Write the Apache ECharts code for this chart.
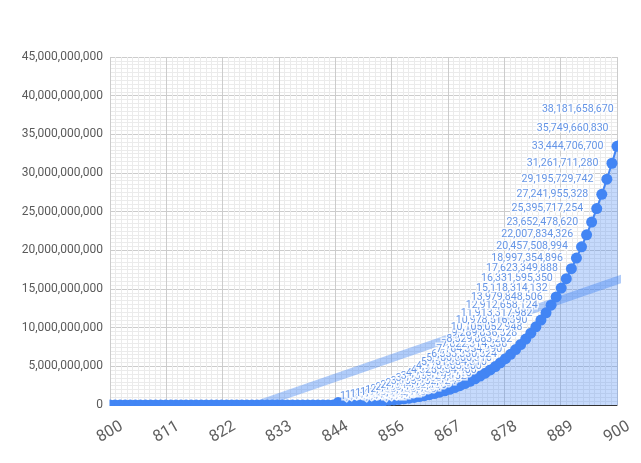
<!DOCTYPE html>
<html>
<head>
<meta charset="utf-8">
<script src="https://cdn.jsdelivr.net/npm/echarts@6/dist/echarts.min.js"></script>
<style>
html,body{margin:0;padding:0;background:#fff;}
#c{width:641px;height:463px;}
</style>
</head>
<body>
<div id="c"></div>
<script>
// x values start at this year, one value per year
const startYear = 800;
const xTickLabels = [800, 811, 822, 833, 844, 856, 867, 878, 889, 900];
// series values (800 .. 902)
const values = [
  0,0,0,0,0,0,0,0,0,0,            // 800-809
  0,0,0,0,0,0,0,0,0,0,            // 810-819
  0,0,0,0,0,0,0,0,0,0,            // 820-829
  0,0,0,0,0,0,0,0,0,0,            // 830-839
  0,0,0,0,0,                      // 840-844
  318217370, 330224294, 344655708, 361886462, 382328440,       // 845-849
  406432350, 434689520, 467633700, 505842870, 549941054,       // 850-854
  600600140, 658541706, 724538852, 799418038, 884060928,       // 855-859
  979406240, 1086451602, 1206255414, 1339938716, 1488687062,   // 860-864
  1653752400, 1836454958, 2038185136, 2260405404, 2504652206,  // 865-869
  2772537870, 3065752524, 3386066018, 3735329852, 4115479110,  // 870-874
  4528534400, 4976603800, 5461884810, 5986666310, 6553330524,  // 875-879
  7164354990, 7822314536, 8529883262, 9289836528, 10105052948, // 880-884
  10978516390, 11913317982, 12912658124, 13979848506, 15118314132, // 885-889
  16331595350, 17623349888, 18997354896, 20457508994, 22007834326, // 890-894
  23652478620, 25395717254, 27241955328, 29195729742, 31261711280, // 895-899
  33444706700, 35749660830, 38181658670                        // 900-902
];

const pts = values.map((v, i) => [startYear + i, v]);

// linear trendline (least squares) from the data
let n = pts.length, sx = 0, sy = 0, sxx = 0, sxy = 0;
pts.forEach(p => { sx += p[0]; sy += p[1]; sxx += p[0]*p[0]; sxy += p[0]*p[1]; });
const slope = (n*sxy - sx*sy) / (n*sxx - sx*sx);
const icpt = (sy - slope*sx) / n;
const x0 = pts[0][0], x1 = pts[pts.length-1][0];
const trend = [[x0, icpt + slope*x0], [x1, icpt + slope*x1]];

function fmt(v){ return String(Math.round(v)).replace(/\B(?=(\d{3})+(?!\d))/g, ','); }

const chart = echarts.init(document.getElementById('c'), null, {renderer:'canvas'});
chart.setOption({
  animation: false,
  backgroundColor: '#fff',
  textStyle: { fontFamily: 'Roboto' },
  grid: { left: 110, right: 24, top: 57, bottom: 58 },
  xAxis: {
    type: 'value', min: 800, max: 900, interval: 100/9,
    axisLine: { show: true, onZero: true, lineStyle: { color: '#333', width: 1 } },
    axisTick: { show: false },
    minorTick: { show: false, splitNumber: 10 },
    splitLine: { show: true, lineStyle: { color: '#cccccc', width: 1 } },
    minorSplitLine: { show: true, lineStyle: { color: '#ebebeb', width: 1 } },
    axisLabel: {
      rotate: 30, fontSize: 16, color: '#5f5f5f', fontFamily: 'Roboto',
      align: 'center', verticalAlign: 'middle', margin: 27,
      formatter: v => { const r = Math.round(v); return xTickLabels.indexOf(r) >= 0 ? String(r) : ''; }
    }
  },
  yAxis: {
    type: 'value', min: 0, max: 45000000000, interval: 5000000000,
    axisLine: { show: false }, axisTick: { show: false },
    minorTick: { show: false, splitNumber: 10 },
    splitLine: { show: true, lineStyle: { color: '#cccccc', width: 1 } },
    minorSplitLine: { show: true, lineStyle: { color: '#ebebeb', width: 1 } },
    axisLabel: { fontSize: 12, color: '#5a5a5a', margin: 7, fontFamily: 'Roboto', formatter: v => fmt(v) }
  },
  // white masks so that markers are cut at the plot edge, as in the original
  graphic: [
    { type: 'rect', z: 100, silent: true, shape: { x: 104, y: 406, width: 537, height: 9 }, style: { fill: '#fff' } },
    { type: 'rect', z: 100, silent: true, shape: { x: 103.5, y: 394, width: 6, height: 12 }, style: { fill: '#fff' } },
    { type: 'rect', z: 100, silent: true, shape: { x: 618, y: 135, width: 23, height: 25 }, style: { fill: '#fff' } }
  ],
  series: [
    {
      type: 'line', data: trend, symbol: 'none', silent: true, z: 2,
      lineStyle: { color: '#4285f4', width: 8, opacity: 0.42 }
    },
    {
      type: 'line', data: pts, z: 3,
      symbol: 'circle', symbolSize: 11, showAllSymbol: true,
      itemStyle: { color: '#4285f4' },
      lineStyle: { color: '#4285f4', width: 2 },
      areaStyle: { color: '#4285f4', opacity: 0.3 }
    },
    {
      type: 'scatter', data: pts, z: 4, clip: false, silent: true,
      symbol: 'circle', symbolSize: 1, itemStyle: { color: 'rgba(0,0,0,0)' },
      label: {
        show: true, position: 'left', distance: 13,
        fontSize: 10.6, fontFamily: 'Roboto', color: '#3f7ae0',
        textBorderColor: '#fff', textBorderWidth: 3,
        formatter: p => p.value[1] >= 1e9 ? fmt(p.value[1]) : ''
      }
    }
  ]
});
</script>
</body>
</html>
